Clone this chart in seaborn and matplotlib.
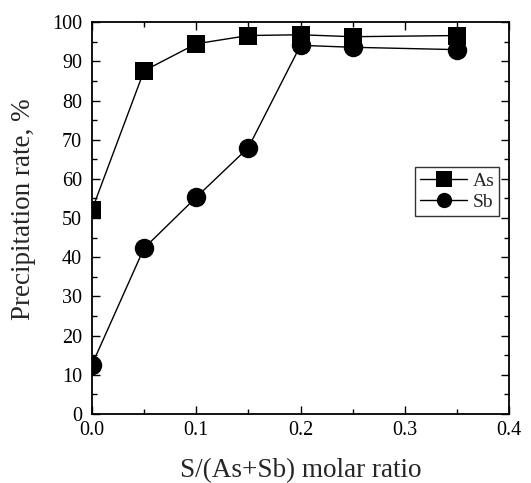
import matplotlib
matplotlib.use("Agg")
import matplotlib.pyplot as plt
from matplotlib.ticker import MultipleLocator
import seaborn as sns
import pandas as pd

# S/(As+Sb) molar ratio and precipitation rates (%)
ratio = [0.0, 0.05, 0.10, 0.15, 0.20, 0.25, 0.35]
as_rate = [52.0, 87.6, 94.5, 96.6, 96.8, 96.3, 96.6]
sb_rate = [12.5, 42.3, 55.3, 68.0, 94.1, 93.6, 93.0]
elements = ["As", "Sb"]

df = pd.DataFrame({
    "ratio": ratio * 2,
    "rate": as_rate + sb_rate,
    "element": [elements[0]] * len(ratio) + [elements[1]] * len(ratio),
})

sns.set_theme(style="ticks")
plt.rcParams["font.family"] = ["Liberation Serif", "DejaVu Serif"]

fig = plt.figure(figsize=(5.31, 4.83), dpi=100)
ax = fig.add_axes([0.173, 0.143, 0.786, 0.811])

sns.lineplot(
    data=df, x="ratio", y="rate", hue="element", style="element",
    markers={"As": "s", "Sb": "o"}, dashes=False,
    palette={"As": "black", "Sb": "black"},
    markersize=13, markeredgewidth=0, linewidth=1.0, ax=ax,
)

ax.set_xlim(0, 0.4)
ax.set_ylim(0, 100)
ax.set_xticks([0.0, 0.1, 0.2, 0.3, 0.4])
ax.set_xticklabels(["0.0", "0.1", "0.2", "0.3", "0.4"])
ax.xaxis.set_minor_locator(MultipleLocator(0.05))
ax.yaxis.set_major_locator(MultipleLocator(10))
ax.yaxis.set_minor_locator(MultipleLocator(5))

ax.tick_params(which="both", direction="in", top=True, right=True,
               labelsize=14.5, colors="black")
ax.tick_params(axis="x", which="major", pad=5)
ax.tick_params(axis="y", which="major", pad=7)
ax.tick_params(which="major", length=6, width=1.0)
ax.tick_params(which="minor", length=3.5, width=1.0)
for s in ax.spines.values():
    s.set_linewidth(1.3)
    s.set_color("black")

ax.set_xlabel("S/(As+Sb) molar ratio", fontsize=19.5, labelpad=13)
ax.set_ylabel("Precipitation rate, %", fontsize=19.5)
ax.yaxis.set_label_coords(-0.134, 0.523)

# circle marker a bit larger than the square
for line in ax.lines:
    if line.get_marker() == "o":
        line.set_markersize(14)

leg = ax.legend(loc="upper left", bbox_to_anchor=(0.775, 0.63), fontsize=14,
                frameon=True, fancybox=False, edgecolor="black",
                handlelength=2.4, handletextpad=0.3, borderpad=0.25,
                labelspacing=0.2, borderaxespad=0)
leg.get_frame().set_linewidth(1.0)
for h in leg.legend_handles:
    h.set_markersize(11)

fig.savefig("out.png", dpi=100)
